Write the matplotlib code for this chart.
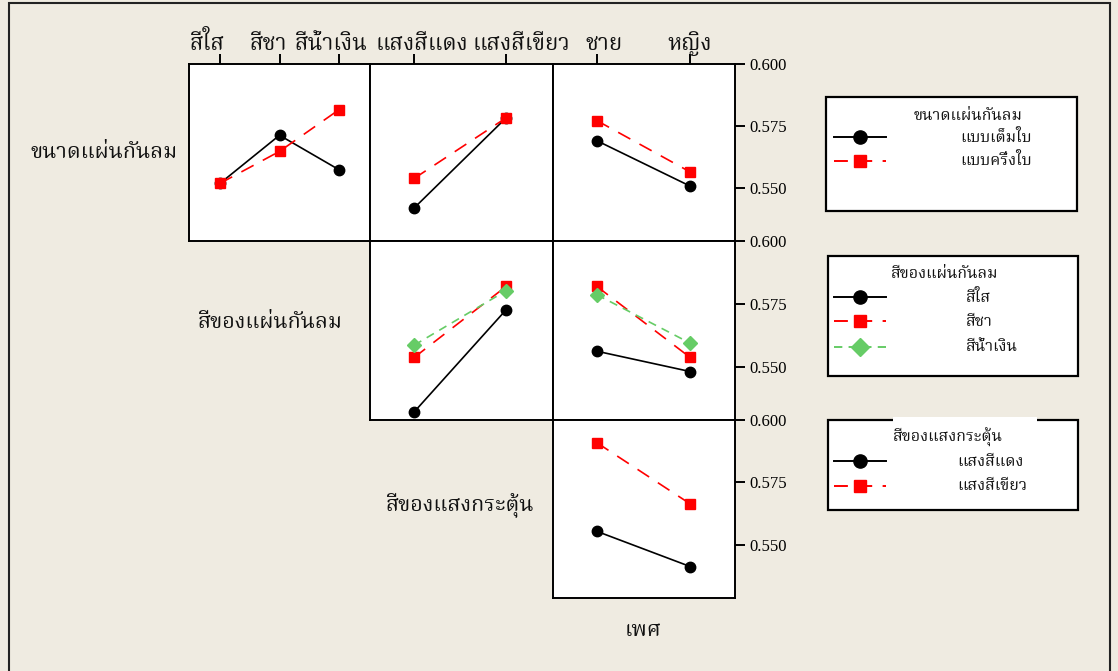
import matplotlib
matplotlib.use("Agg")
import matplotlib.pyplot as plt
from matplotlib import font_manager, ft2font
from matplotlib.lines import Line2D
from matplotlib.patches import Rectangle

# ---------------- data ----------------
size_levels = ['แบบเต็มใบ', 'แบบครึ่งใบ']
color_levels = ['สีใส', 'สีชา', 'สีน้ำเงิน']
light_levels = ['แสงสีแดง', 'แสงสีเขียว']
sex_levels = ['ชาย', 'หญิง']

factor_names = ['ขนาดแผ่นกันลม', 'สีของแผ่นกันลม', 'สีของแสงกระตุ้น', 'เพศ']

size_by_color = [[0.5519, 0.5713, 0.5574], [0.5519, 0.5648, 0.5816]]
size_by_light = [[0.5420, 0.5783], [0.5539, 0.5783]]
size_by_sex = [[0.5691, 0.5508], [0.5772, 0.5565]]
color_by_light = [[0.5319, 0.5726], [0.5536, 0.5819], [0.5585, 0.5802]]
color_by_sex = [[0.5561, 0.5480], [0.5819, 0.5536], [0.5786, 0.5593]]
light_by_sex = [[0.5554, 0.5413], [0.5909, 0.5664]]

y_ticks = [0.550, 0.575, 0.600]
y_tick_labels = ['0.550', '0.575', '0.600']

# ---------------- fonts ----------------
def find_thai_font():
    prefs = ['Norasi', 'Kinnari', 'Laksaman', 'Noto Serif Thai', 'Garuda', 'Loma',
             'Sawasdee', 'Umpush', 'Waree', 'Noto Sans Thai Looped', 'Noto Sans Thai',
             'TlwgTypo', 'Purisa']
    found = {}
    for f in font_manager.fontManager.ttflist:
        if f.name in found:
            continue
        try:
            cm = ft2font.FT2Font(f.fname).get_charmap()
        except Exception:
            continue
        if 0x0E01 in cm and 0x0E2A in cm and 0x0E35 in cm:
            found[f.name] = f.fname
    for p in prefs:
        if p in found:
            return p
    if found:
        return sorted(found)[0]
    return None

thai = find_thai_font()
thai_fam = [thai, 'DejaVu Sans'] if thai else ['DejaVu Sans']
plt.rcParams['font.family'] = thai_fam
plt.rcParams['lines.scale_dashes'] = False

BG = '#EFEBE1'
TXT = '#111111'
W, H = 1118, 671
fig = plt.figure(figsize=(W / 100, H / 100), dpi=100, facecolor=BG)

def fx(x):
    return x / W

def fy(y):
    return 1 - y / H

col_edges = [189, 370, 553, 735]
row_edges = [64, 241, 420, 598]
col_xlims = [(0.48, 3.52), (0.52, 2.51), (0.53, 2.48)]
ylim = (0.5287, 0.600)

# visible centres of the top level labels (Minitab offsets them from the ticks)
top_label_x = [[207, 268, 331], [422, 521], [604, 690]]

col_levels = [color_levels, light_levels, sex_levels]
panel_data = {
    (0, 0): size_by_color, (0, 1): size_by_light, (0, 2): size_by_sex,
    (1, 1): color_by_light, (1, 2): color_by_sex,
    (2, 2): light_by_sex,
}

GREEN = '#66CC66'
styles = [
    dict(color='black', marker='o', markersize=7.5, linestyle='-', lw=1.2),
    dict(color='#FF0000', marker='s', markersize=7, linestyle=(0, (10, 7.5)), lw=1.2),
    dict(color=GREEN, marker='D', markersize=7.5, linestyle=(0, (6, 4.5)), lw=1.2),
]

for (r, c), series in panel_data.items():
    x0, x1 = col_edges[c], col_edges[c + 1]
    y0, y1 = row_edges[r], row_edges[r + 1]
    ax = fig.add_axes([fx(x0), fy(y1), (x1 - x0) / W, (y1 - y0) / H])
    ax.set_facecolor('white')
    xs = list(range(1, len(col_levels[c]) + 1))
    for i, vals in enumerate(series):
        st = styles[i]
        ax.plot(xs, vals, color=st['color'], marker=st['marker'],
                markersize=st['markersize'], linestyle=st['linestyle'],
                lw=st['lw'], markeredgecolor=st['color'])
    ax.set_xlim(*col_xlims[c])
    ax.set_ylim(*ylim)
    for s in ax.spines.values():
        s.set_linewidth(1.4)
        s.set_color('black')
    if r == 0:
        ax.xaxis.tick_top()
        ax.set_xticks(xs)
        ax.set_xticklabels([])
        ax.tick_params(axis='x', direction='out', length=7, width=1.4)
        for lab, lx in zip(col_levels[c], top_label_x[c]):
            fig.text(fx(lx), fy(50), lab, ha='center', va='baseline', fontsize=16, color=TXT)
    else:
        ax.set_xticks([])
    if c == 2:
        ax.yaxis.tick_right()
        ax.set_yticks(y_ticks)
        ax.set_yticklabels(y_tick_labels, fontsize=12, family='Liberation Serif')
        ax.tick_params(axis='y', direction='out', length=7, width=1.4, pad=3)
    else:
        ax.set_yticks([])

# factor labels in empty cells
fig.text(fx(104), fy(152), factor_names[0], ha='center', va='center', fontsize=15.5, color=TXT)
fig.text(fx(270), fy(322), factor_names[1], ha='center', va='center', fontsize=15.5, color=TXT)
fig.text(fx(460), fy(505), factor_names[2], ha='center', va='center', fontsize=15.5, color=TXT)
fig.text(fx(643), fy(630), factor_names[3], ha='center', va='center', fontsize=15.5, color=TXT)

# legends
def legend_box(x0, y0, x1, y1, title, title_x, title_y, labels, ys, label_x, gap=None):
    fig.patches.append(Rectangle((fx(x0), fy(y1)), (x1 - x0) / W, (y1 - y0) / H,
                                 transform=fig.transFigure, facecolor='white',
                                 edgecolor='black', lw=1.6, zorder=1))
    if gap is not None:
        fig.patches.append(Rectangle((fx(gap[0]), fy(y0 + 3)), (gap[1] - gap[0]) / W, 6 / H,
                                     transform=fig.transFigure, facecolor='white',
                                     edgecolor='none', zorder=2))
    fig.text(fx(title_x), fy(title_y), title, ha='left', va='center', fontsize=11.5,
             color=TXT, zorder=3)
    for i, (lab, yy) in enumerate(zip(labels, ys)):
        st = styles[i]
        fig.lines.append(Line2D([fx(834), fx(886)], [fy(yy), fy(yy)], transform=fig.transFigure,
                                color=st['color'], linestyle=st['linestyle'], lw=1.4, zorder=3))
        fig.lines.append(Line2D([fx(860)], [fy(yy)], transform=fig.transFigure,
                                color=st['color'], marker=st['marker'],
                                markersize=st['markersize'] + 2, linestyle='none', zorder=4))
        fig.text(fx(label_x), fy(yy), lab, ha='left', va='center', fontsize=11.5,
                 color=TXT, zorder=3)

legend_box(826, 97, 1077, 211, factor_names[0], 914, 116, size_levels, [137, 161], 960)
legend_box(828, 256, 1078, 376, factor_names[1], 891, 273, color_levels, [297, 321, 347], 966)
legend_box(828, 420, 1078, 510, factor_names[2], 893, 437, light_levels, [461, 486], 957,
           gap=(893, 1037))

# outer frame
fig.patches.append(Rectangle((fx(9), fy(676)), (1110 - 9) / W, (676 - 3) / H,
                             transform=fig.transFigure, facecolor='none',
                             edgecolor='#222222', lw=1.5, zorder=0))

fig.savefig('out.png', dpi=100, facecolor=BG)
